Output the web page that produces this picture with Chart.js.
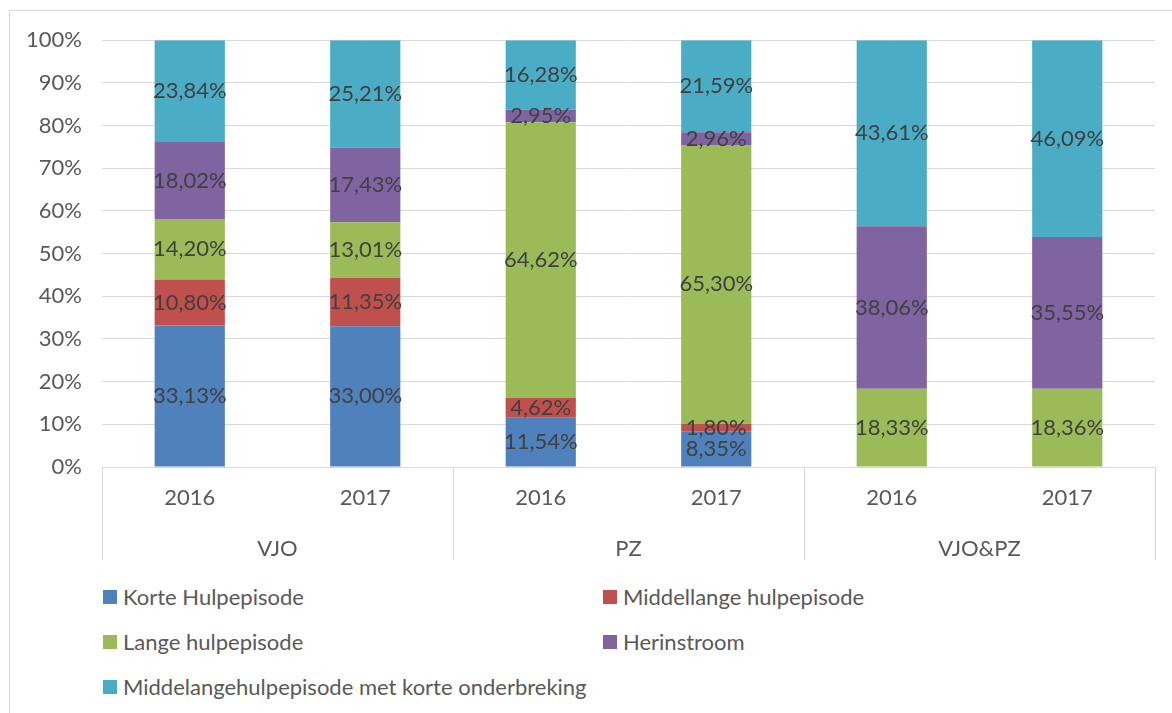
<!DOCTYPE html>
<html>
<head>
<meta charset="utf-8">
<script src="https://cdn.jsdelivr.net/npm/chart.js@4"></script>
<style>
  body { margin: 0; background: #fff; width: 1172px; height: 713px; overflow: hidden; position: relative; font-family: Lato, sans-serif; }
  #frame { position: absolute; left: 9px; top: 10px; width: 1200px; height: 720px; border: 1px solid #d9d9d9; }
  #wrap { position: absolute; left: 0; top: -4px; width: 1163px; height: 564px; }
  #legend { position: absolute; left: 0; top: 0; }
  .item { position: absolute; display: flex; align-items: center; font-size: 22px; color: #595959; white-space: nowrap; }
  .box { width: 14px; height: 14px; margin-right: 6px; }
</style>
</head>
<body>
<div id="frame">
  <div id="wrap"><canvas id="chart"></canvas></div>
</div>
<div id="legend"></div>
<script>
const years = ['2016', '2017', '2016', '2017', '2016', '2017'];
const groups = ['VJO', 'PZ', 'VJO&PZ'];
const seriesNames = ['Korte Hulpepisode', 'Middellange hulpepisode', 'Lange hulpepisode', 'Herinstroom', 'Middelangehulpepisode met korte onderbreking'];
const colors = ['#4F81BD', '#C0504D', '#9BBB59', '#8064A2', '#4BACC6'];

const korte = [33.13, 33.00, 11.54, 8.35, 0, 0];
const middellange = [10.80, 11.35, 4.62, 1.80, 0, 0];
const lange = [14.20, 13.01, 64.62, 65.30, 18.33, 18.36];
const herinstroom = [18.02, 17.43, 2.95, 2.96, 38.06, 35.55];
const onderbreking = [23.84, 25.21, 16.28, 21.59, 43.61, 46.09];

const series = [korte, middellange, lange, herinstroom, onderbreking];
const font = { family: 'Lato, sans-serif', size: 22 };

const fmt = (v) => v.toFixed(2).replace('.', ',') + '%';

// labels centred in each segment, like Excel's data labels
const segmentLabels = {
  id: 'segmentLabels',
  afterDatasetsDraw(chart) {
    const ctx = chart.ctx;
    ctx.save();
    ctx.font = `${font.size}px ${font.family}`;
    ctx.fillStyle = '#404040';
    ctx.textAlign = 'center';
    ctx.textBaseline = 'middle';
    chart.data.datasets.forEach((ds, i) => {
      chart.getDatasetMeta(i).data.forEach((bar, j) => {
        const v = ds.data[j];
        if (!v) return;
        ctx.fillText(fmt(v), bar.x, (bar.y + bar.base) / 2);
      });
    });
    ctx.restore();
  }
};

// vertical separators between the groups of the two-level axis
const groupLines = {
  id: 'groupLines',
  afterDraw(chart) {
    const x = chart.scales.x;
    const bottom = chart.scales.x2.bottom - 11;
    const ctx = chart.ctx;
    ctx.save();
    ctx.strokeStyle = '#d9d9d9';
    ctx.lineWidth = 1;
    for (let i = 0; i <= years.length; i += 2) {
      const px = Math.round(x.left + i * x.width / years.length) + 0.5;
      ctx.beginPath();
      ctx.moveTo(px, chart.chartArea.bottom);
      ctx.lineTo(px, bottom);
      ctx.stroke();
    }
    ctx.restore();
  }
};

const chart = new Chart(document.getElementById('chart'), {
  type: 'bar',
  data: {
    labels: years,
    datasets: series.map((d, i) => ({
      label: seriesNames[i],
      data: d,
      backgroundColor: colors[i],
      barPercentage: 0.4,
      categoryPercentage: 1
    }))
  },
  options: {
    responsive: true,
    maintainAspectRatio: false,
    animation: false,
    layout: { padding: { left: 0, top: 25, right: 18, bottom: 0 } },
    plugins: { legend: { display: false }, tooltip: { enabled: false } },
    scales: {
      x: {
        stacked: true,
        grid: { display: false },
        border: { display: true, color: '#d9d9d9' },
        ticks: { font, color: '#595959', padding: 10, maxRotation: 0 },
        afterFit: (s) => { s.height = 56; }
      },
      x2: {
        type: 'category',
        labels: groups,
        position: 'bottom',
        offset: true,
        grid: { display: false },
        border: { display: false },
        ticks: { font, color: '#595959', padding: 5, maxRotation: 0 },
        afterFit: (s) => { s.height = 48; }
      },
      y: {
        stacked: true,
        min: 0,
        max: 100,
        grid: { color: '#d9d9d9', drawTicks: false },
        border: { display: false },
        ticks: { stepSize: 10, font, color: '#595959', padding: 20, callback: (v) => v + '%' },
        afterFit: (s) => { s.width = 92; }
      }
    }
  },
  plugins: [segmentLabels, groupLines]
});

// two-column legend under the chart, as in the Excel original
const legendEl = document.getElementById('legend');
const items = chart.options.plugins.legend.labels.generateLabels(chart);
items.forEach((it, i) => {
  const div = document.createElement('div');
  div.className = 'item';
  div.style.left = (i % 2 === 0 ? 103 : 603) + 'px';
  div.style.top = (597 + Math.floor(i / 2) * 45 - 14) + 'px';
  div.innerHTML = `<span class="box" style="background:${it.fillStyle}"></span><span>${it.text}</span>`;
  legendEl.appendChild(div);
});
</script>
</body>
</html>
